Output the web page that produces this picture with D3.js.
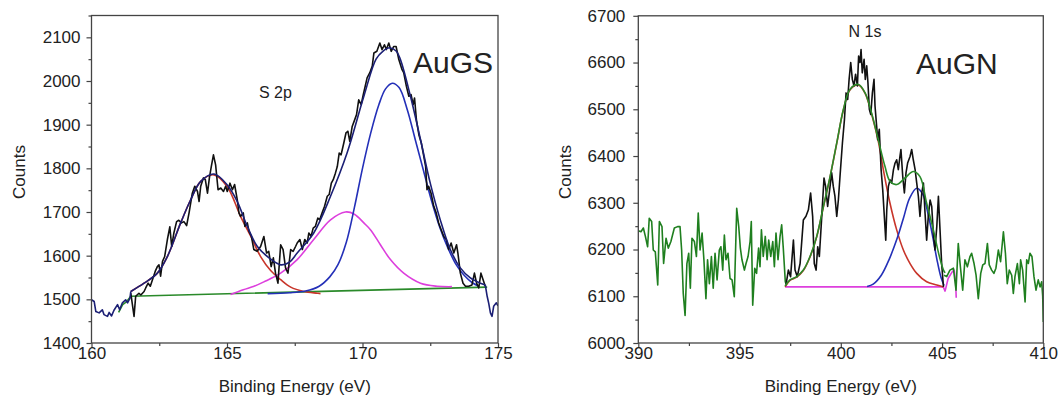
<!DOCTYPE html>
<html>
<head>
<meta charset="utf-8">
<title>XPS spectra: S 2p (AuGS) and N 1s (AuGN)</title>
<script src="https://d3js.org/d3.v7.min.js"></script>
<style>
  body { margin: 0; background: #fff; }
  svg text { font-family: "Liberation Sans", Arial, sans-serif; fill: #222; }
  .axis path { display: none; }
  .axis line { stroke: #444; stroke-width: 1.2; }
  .axis text { font-size: 17px; fill: #222; }
  .series { fill: none; stroke-width: 1.6; stroke-linejoin: round; }
</style>
</head>
<body>
<svg id="chart" width="1059" height="400"></svg>
<script>
  // ---- S 2p (AuGS) ----
  const s2pXTicks = [160, 165, 170, 175];
  const s2pXMinor = [162.5, 167.5, 172.5];
  const s2pYTicks = [1400, 1500, 1600, 1700, 1800, 1900, 2000, 2100];
  const s2pYMinor = [1450, 1550, 1650, 1750, 1850, 1950, 2050, 2150];

  const s2pRaw = [[161.45,1514],[161.57,1461],[161.63,1507],[161.75,1514],[161.82,1510],[161.94,1518],[162.0,1526],[162.09,1537],[162.17,1530],[162.25,1545],[162.35,1564],[162.43,1575],[162.49,1579],[162.55,1553],[162.62,1587],[162.7,1598],[162.8,1637],[162.89,1666],[162.96,1621],[163.04,1652],[163.14,1678],[163.22,1681],[163.32,1675],[163.41,1678],[163.51,1669],[163.6,1698],[163.72,1743],[163.81,1759],[163.91,1747],[163.97,1724],[164.03,1759],[164.13,1778],[164.2,1774],[164.28,1743],[164.35,1778],[164.42,1804],[164.5,1831],[164.58,1808],[164.67,1751],[164.77,1755],[164.87,1747],[164.95,1759],[165.01,1747],[165.11,1766],[165.2,1751],[165.28,1763],[165.38,1728],[165.44,1698],[165.5,1690],[165.6,1698],[165.66,1667],[165.75,1675],[165.81,1656],[165.9,1644],[165.99,1614],[166.11,1610],[166.24,1621],[166.36,1644],[166.46,1606],[166.54,1610],[166.63,1575],[166.71,1595],[166.79,1560],[166.88,1537],[166.98,1625],[167.07,1614],[167.16,1572],[167.25,1560],[167.35,1614],[167.44,1610],[167.53,1621],[167.59,1629],[167.69,1637],[167.78,1614],[167.87,1637],[167.96,1629],[168.02,1652],[168.1,1644],[168.18,1663],[168.26,1667],[168.35,1686],[168.42,1682],[168.51,1698],[168.6,1713],[168.7,1736],[168.77,1740],[168.85,1766],[168.92,1774],[169.0,1789],[169.07,1804],[169.14,1835],[169.21,1831],[169.31,1858],[169.39,1881],[169.46,1885],[169.53,1862],[169.62,1896],[169.71,1911],[169.78,1923],[169.86,1957],[169.95,1946],[170.03,1969],[170.1,1988],[170.17,2007],[170.27,2019],[170.36,2034],[170.42,2064],[170.53,2068],[170.64,2087],[170.72,2072],[170.81,2083],[170.88,2072],[170.97,2087],[171.06,2068],[171.15,2079],[171.24,2079],[171.34,2049],[171.46,2026],[171.52,2019],[171.62,1988],[171.71,1965],[171.79,1969],[171.87,1946],[171.92,1961],[171.99,1911],[172.08,1877],[172.17,1858],[172.24,1835],[172.33,1804],[172.38,1751],[172.44,1759],[172.53,1743],[172.63,1713],[172.72,1698],[172.81,1675],[172.9,1660],[173.0,1644],[173.09,1637],[173.18,1614],[173.27,1629],[173.37,1606],[173.47,1625],[173.52,1606],[173.61,1560],[173.71,1537],[173.8,1530],[173.92,1530],[174.04,1533],[174.13,1560],[174.21,1537],[174.29,1526],[174.37,1560],[174.45,1545],[174.53,1530]];

  const s2pLeadIn = [[160.0,1499],[160.1,1495],[160.16,1472],[160.28,1469],[160.4,1476],[160.46,1465],[160.59,1461],[160.65,1470],[160.74,1462],[160.83,1475],[160.96,1488],[161.04,1476],[161.14,1492],[161.26,1499],[161.33,1492],[161.42,1503],[161.45,1518]];
  const s2pTail = [[174.53,1533],[174.6,1507],[174.66,1490],[174.72,1469],[174.78,1461],[174.84,1484],[174.94,1492],[175.0,1485]];

  const s2pEnvelope = [[161.45,1518],[161.94,1537],[162.43,1560],[162.8,1598],[163.29,1675],[163.66,1728],[164.03,1770],[164.52,1787],[165.01,1762],[165.38,1724],[165.75,1667],[166.12,1621],[166.55,1595],[166.98,1579],[167.3,1585],[167.59,1606],[168.2,1652],[168.82,1736],[169.43,1835],[170.05,1965],[170.5,2050],[170.75,2068],[171.0,2076],[171.25,2068],[171.4,2049],[171.77,1965],[172.14,1866],[172.5,1766],[172.87,1682],[173.24,1614],[173.61,1572],[173.98,1549],[174.35,1537],[174.53,1533]];
  const s2pPeakA = [[161.45,1518],[161.94,1537],[162.43,1560],[162.8,1598],[163.29,1675],[163.66,1728],[164.03,1770],[164.52,1785],[165.01,1758],[165.5,1690],[165.87,1645],[166.24,1598],[166.61,1566],[166.98,1545],[167.35,1528],[167.84,1518],[168.33,1514],[168.45,1513]];
  const s2pPeakB = [[165.13,1511],[165.6,1522],[166.0,1530],[166.36,1540],[166.98,1560],[167.59,1591],[168.2,1637],[168.82,1682],[169.37,1700],[169.7,1695],[170.05,1675],[170.3,1659],[170.66,1625],[171.03,1591],[171.52,1560],[172.14,1537],[172.75,1530],[173.3,1529]];
  const s2pPeakC = [[166.5,1513],[167.3,1515],[167.9,1519],[168.4,1530],[168.8,1552],[169.1,1580],[169.4,1630],[169.7,1710],[170.0,1800],[170.3,1880],[170.6,1945],[170.85,1982],[171.1,1995],[171.35,1985],[171.65,1935],[171.95,1865],[172.25,1795],[172.55,1725],[172.85,1665],[173.15,1618],[173.45,1580],[173.75,1555],[174.05,1538],[174.3,1530]];
  const s2pBaseline = [[161.0,1470],[161.15,1488],[161.3,1495],[161.45,1507],[174.6,1528]];

  // ---- N 1s (AuGN) ----
  const n1sXTicks = [390, 395, 400, 405, 410];
  const n1sXMinor = [392.5, 397.5, 402.5, 407.5];
  const n1sYTicks = [6000, 6100, 6200, 6300, 6400, 6500, 6600, 6700];
  const n1sYMinor = [6050, 6150, 6250, 6350, 6450, 6550, 6650];

  const n1sOuterLeft = [[390.0,6240],[390.13,6238],[390.25,6246],[390.35,6228],[390.46,6206],[390.54,6267],[390.66,6260],[390.74,6199],[390.84,6195],[390.96,6124],[391.04,6260],[391.17,6249],[391.25,6170],[391.37,6224],[391.48,6203],[391.61,6217],[391.78,6246],[391.94,6249],[392.06,6249],[392.14,6199],[392.22,6106],[392.31,6059],[392.4,6170],[392.49,6192],[392.57,6117],[392.65,6224],[392.77,6217],[392.87,6185],[392.96,6278],[393.05,6199],[393.15,6235],[393.24,6178],[393.34,6095],[393.42,6178],[393.51,6127],[393.61,6185],[393.7,6117],[393.79,6192],[393.89,6135],[394.0,6199],[394.08,6206],[394.17,6156],[394.25,6231],[394.33,6178],[394.43,6192],[394.53,6138],[394.63,6135],[394.74,6099],[394.86,6288],[394.96,6249],[395.04,6203],[395.12,6178],[395.24,6156],[395.32,6170],[395.42,6185],[395.52,6217],[395.58,6260],[395.65,6081],[395.75,6160],[395.84,6149],[395.94,6203],[396.01,6163],[396.08,6242],[396.17,6185],[396.27,6228],[396.36,6178],[396.44,6220],[396.54,6185],[396.64,6217],[396.72,6163],[396.8,6235],[396.9,6178],[397.0,6228],[397.08,6253],[397.16,6203],[397.26,6131],[397.3,6126]];
  const n1sOuterRight = [[405.1,6145],[405.23,6142],[405.39,6156],[405.56,6160],[405.69,6113],[405.8,6213],[405.89,6170],[406.02,6113],[406.13,6178],[406.25,6163],[406.38,6185],[406.46,6192],[406.58,6170],[406.68,6145],[406.79,6095],[406.91,6149],[407.01,6167],[407.12,6170],[407.24,6213],[407.33,6167],[407.45,6156],[407.56,6149],[407.66,6160],[407.78,6199],[407.89,6174],[408.03,6238],[408.13,6192],[408.22,6127],[408.32,6156],[408.44,6145],[408.52,6106],[408.6,6142],[408.72,6170],[408.82,6127],[408.88,6178],[408.98,6156],[409.1,6088],[409.18,6178],[409.26,6170],[409.34,6192],[409.44,6185],[409.54,6142],[409.64,6113],[409.75,6135],[409.84,6120],[409.92,6131],[409.97,6100],[410.0,6045]];
  const n1sRaw = [[397.3,6126],[397.41,6156],[397.52,6142],[397.66,6220],[397.74,6156],[397.85,6142],[397.99,6170],[398.15,6263],[398.28,6271],[398.4,6285],[398.51,6321],[398.61,6271],[398.69,6170],[398.78,6156],[398.86,6206],[398.94,6185],[399.06,6271],[399.17,6353],[399.25,6335],[399.35,6292],[399.47,6335],[399.55,6364],[399.63,6335],[399.71,6314],[399.8,6271],[399.88,6306],[399.96,6356],[400.08,6428],[400.18,6478],[400.26,6535],[400.34,6521],[400.41,6564],[400.49,6600],[400.57,6564],[400.65,6550],[400.73,6575],[400.82,6550],[400.88,6614],[400.95,6600],[401.0,6628],[401.06,6578],[401.15,6607],[401.21,6564],[401.28,6593],[401.34,6557],[401.41,6500],[401.48,6489],[401.56,6535],[401.64,6564],[401.69,6507],[401.77,6464],[401.82,6435],[401.9,6457],[401.99,6371],[402.07,6328],[402.15,6271],[402.22,6220],[402.27,6285],[402.35,6335],[402.43,6349],[402.51,6342],[402.6,6371],[402.68,6385],[402.76,6392],[402.84,6371],[402.92,6399],[402.97,6414],[403.06,6356],[403.14,6321],[403.22,6364],[403.3,6385],[403.42,6399],[403.5,6414],[403.58,6392],[403.67,6371],[403.75,6342],[403.83,6314],[403.91,6271],[404.0,6321],[404.08,6342],[404.16,6278],[404.24,6220],[404.32,6271],[404.41,6306],[404.49,6292],[404.57,6235],[404.65,6199],[404.74,6249],[404.82,6314],[404.9,6242],[404.98,6170],[405.07,6120]];
  const n1sEnvelope = [[397.25,6122],[397.49,6135],[397.82,6142],[398.15,6156],[398.48,6185],[398.81,6228],[399.14,6292],[399.47,6356],[399.8,6428],[400.13,6500],[400.46,6543],[400.87,6553],[401.2,6535],[401.52,6492],[401.85,6435],[402.18,6378],[402.43,6346],[402.76,6339],[403.17,6353],[403.58,6367],[403.91,6356],[404.24,6299],[404.57,6242],[404.87,6185],[405.07,6156],[405.15,6150]];
  const n1sPeakA = [[397.25,6120],[397.49,6134],[397.82,6141],[398.15,6155],[398.48,6184],[398.81,6227],[399.14,6291],[399.47,6355],[399.8,6427],[400.13,6499],[400.46,6542],[400.87,6552],[401.2,6534],[401.52,6490],[401.85,6432],[402.1,6371],[402.43,6299],[402.76,6242],[403.09,6199],[403.42,6170],[403.75,6149],[404.24,6131],[404.74,6124],[405.07,6120]];
  const n1sPeakB = [[401.3,6121],[401.6,6126],[402.0,6145],[402.4,6180],[402.8,6226],[403.1,6268],[403.4,6310],[403.75,6331],[404.05,6318],[404.3,6278],[404.55,6225],[404.75,6178],[404.95,6140],[405.1,6123]];
  const n1sBaseline = [[397.25,6120],[405.06,6120],[405.15,6111],[405.3,6138],[405.5,6152],[405.6,6156],[405.67,6130],[405.7,6097]];

  const svg = d3.select("#chart");

  function drawPanel(p) {
    const x = d3.scaleLinear().domain(p.xDomain).range([p.left, p.right]);
    const y = d3.scaleLinear().domain(p.yDomain).range([p.bottom, p.top]);

    const g = svg.append("g");
    const clipId = "clip-" + p.id;
    g.append("clipPath").attr("id", clipId)
      .append("rect")
      .attr("x", p.left).attr("y", p.top)
      .attr("width", p.right - p.left).attr("height", p.bottom - p.top);

    const plot = g.append("g").attr("clip-path", `url(#${clipId})`);
    p.series.forEach(s => {
      const line = d3.line()
        .x(d => x(d[0])).y(d => y(d[1]))
        .curve(s.smooth ? d3.curveCatmullRom : d3.curveLinear);
      plot.append("path")
        .attr("class", "series")
        .attr("stroke", s.color)
        .attr("d", line(s.data));
    });

    // frame
    g.append("rect")
      .attr("x", p.left).attr("y", p.top)
      .attr("width", p.right - p.left).attr("height", p.bottom - p.top)
      .attr("fill", "none").attr("stroke", "#444").attr("stroke-width", 1.3);

    // x axis
    const xAx = g.append("g").attr("class", "axis")
      .attr("transform", `translate(0,${p.bottom})`)
      .call(d3.axisBottom(x).tickValues(p.xTicks).tickSize(5).tickFormat(d3.format("d")));
    xAx.selectAll("text").attr("y", 3.5);
    g.append("g").attr("class", "axis")
      .attr("transform", `translate(0,${p.bottom})`)
      .call(d3.axisBottom(x).tickValues(p.xMinor).tickSize(3).tickFormat(""));

    // y axis
    g.append("g").attr("class", "axis")
      .attr("transform", `translate(${p.left},0)`)
      .call(d3.axisLeft(y).tickValues(p.yTicks).tickSize(5).tickPadding(p.yPad).tickFormat(d3.format("d")));
    g.append("g").attr("class", "axis")
      .attr("transform", `translate(${p.left},0)`)
      .call(d3.axisLeft(y).tickValues(p.yMinor).tickSize(3).tickFormat(""));

    // titles
    g.append("text")
      .attr("x", (p.left + p.right) / 2).attr("y", 392)
      .attr("text-anchor", "middle").style("font-size", "17px")
      .text("Binding Energy (eV)");
    g.append("text")
      .attr("transform", `translate(${p.left - 67},172) rotate(-90)`)
      .attr("text-anchor", "middle").style("font-size", "17px")
      .text("Counts");
    g.append("text")
      .attr("x", p.coreX).attr("y", p.coreY)
      .style("font-size", "16px")
      .text(p.core);
    g.append("text")
      .attr("x", p.sampleX).attr("y", p.sampleY)
      .style("font-size", "30px")
      .text(p.sample);
  }

  drawPanel({
    id: "s2p", left: 91.5, right: 498, top: 15.5, bottom: 343,
    xDomain: [160, 175], yDomain: [1400, 2150],
    xTicks: s2pXTicks, xMinor: s2pXMinor, yTicks: s2pYTicks, yMinor: s2pYMinor, yPad: 6,
    core: "S 2p", coreX: 259, coreY: 98,
    sample: "AuGS", sampleX: 413, sampleY: 73,
    series: [
      { data: s2pBaseline, color: "#2a8a2a" },
      { data: s2pPeakA, color: "#c8352a", smooth: true },
      { data: s2pPeakB, color: "#dd3fdd", smooth: true },
      { data: s2pPeakC, color: "#2430b8", smooth: true },
      { data: s2pRaw, color: "#111" },
      { data: s2pLeadIn, color: "#1b1f75" },
      { data: s2pEnvelope, color: "#1b1f75", smooth: true },
      { data: s2pTail, color: "#1b1f75" }
    ]
  });

  drawPanel({
    id: "n1s", left: 638.3, right: 1043.3, top: 15.8, bottom: 343,
    xDomain: [390, 410], yDomain: [6000, 6700],
    xTicks: n1sXTicks, xMinor: n1sXMinor, yTicks: n1sYTicks, yMinor: n1sYMinor, yPad: 8,
    core: "N 1s", coreX: 848.5, coreY: 36.5,
    sample: "AuGN", sampleX: 916, sampleY: 74,
    series: [
      { data: n1sBaseline, color: "#dd3fdd" },
      { data: n1sPeakA, color: "#c8352a", smooth: true },
      { data: n1sPeakB, color: "#2430b8", smooth: true },
      { data: n1sOuterLeft, color: "#1f7f1f" },
      { data: n1sOuterRight, color: "#1f7f1f" },
      { data: n1sRaw, color: "#111" },
      { data: n1sEnvelope, color: "#2a8a2a", smooth: true }
    ]
  });
</script>
</body>
</html>
